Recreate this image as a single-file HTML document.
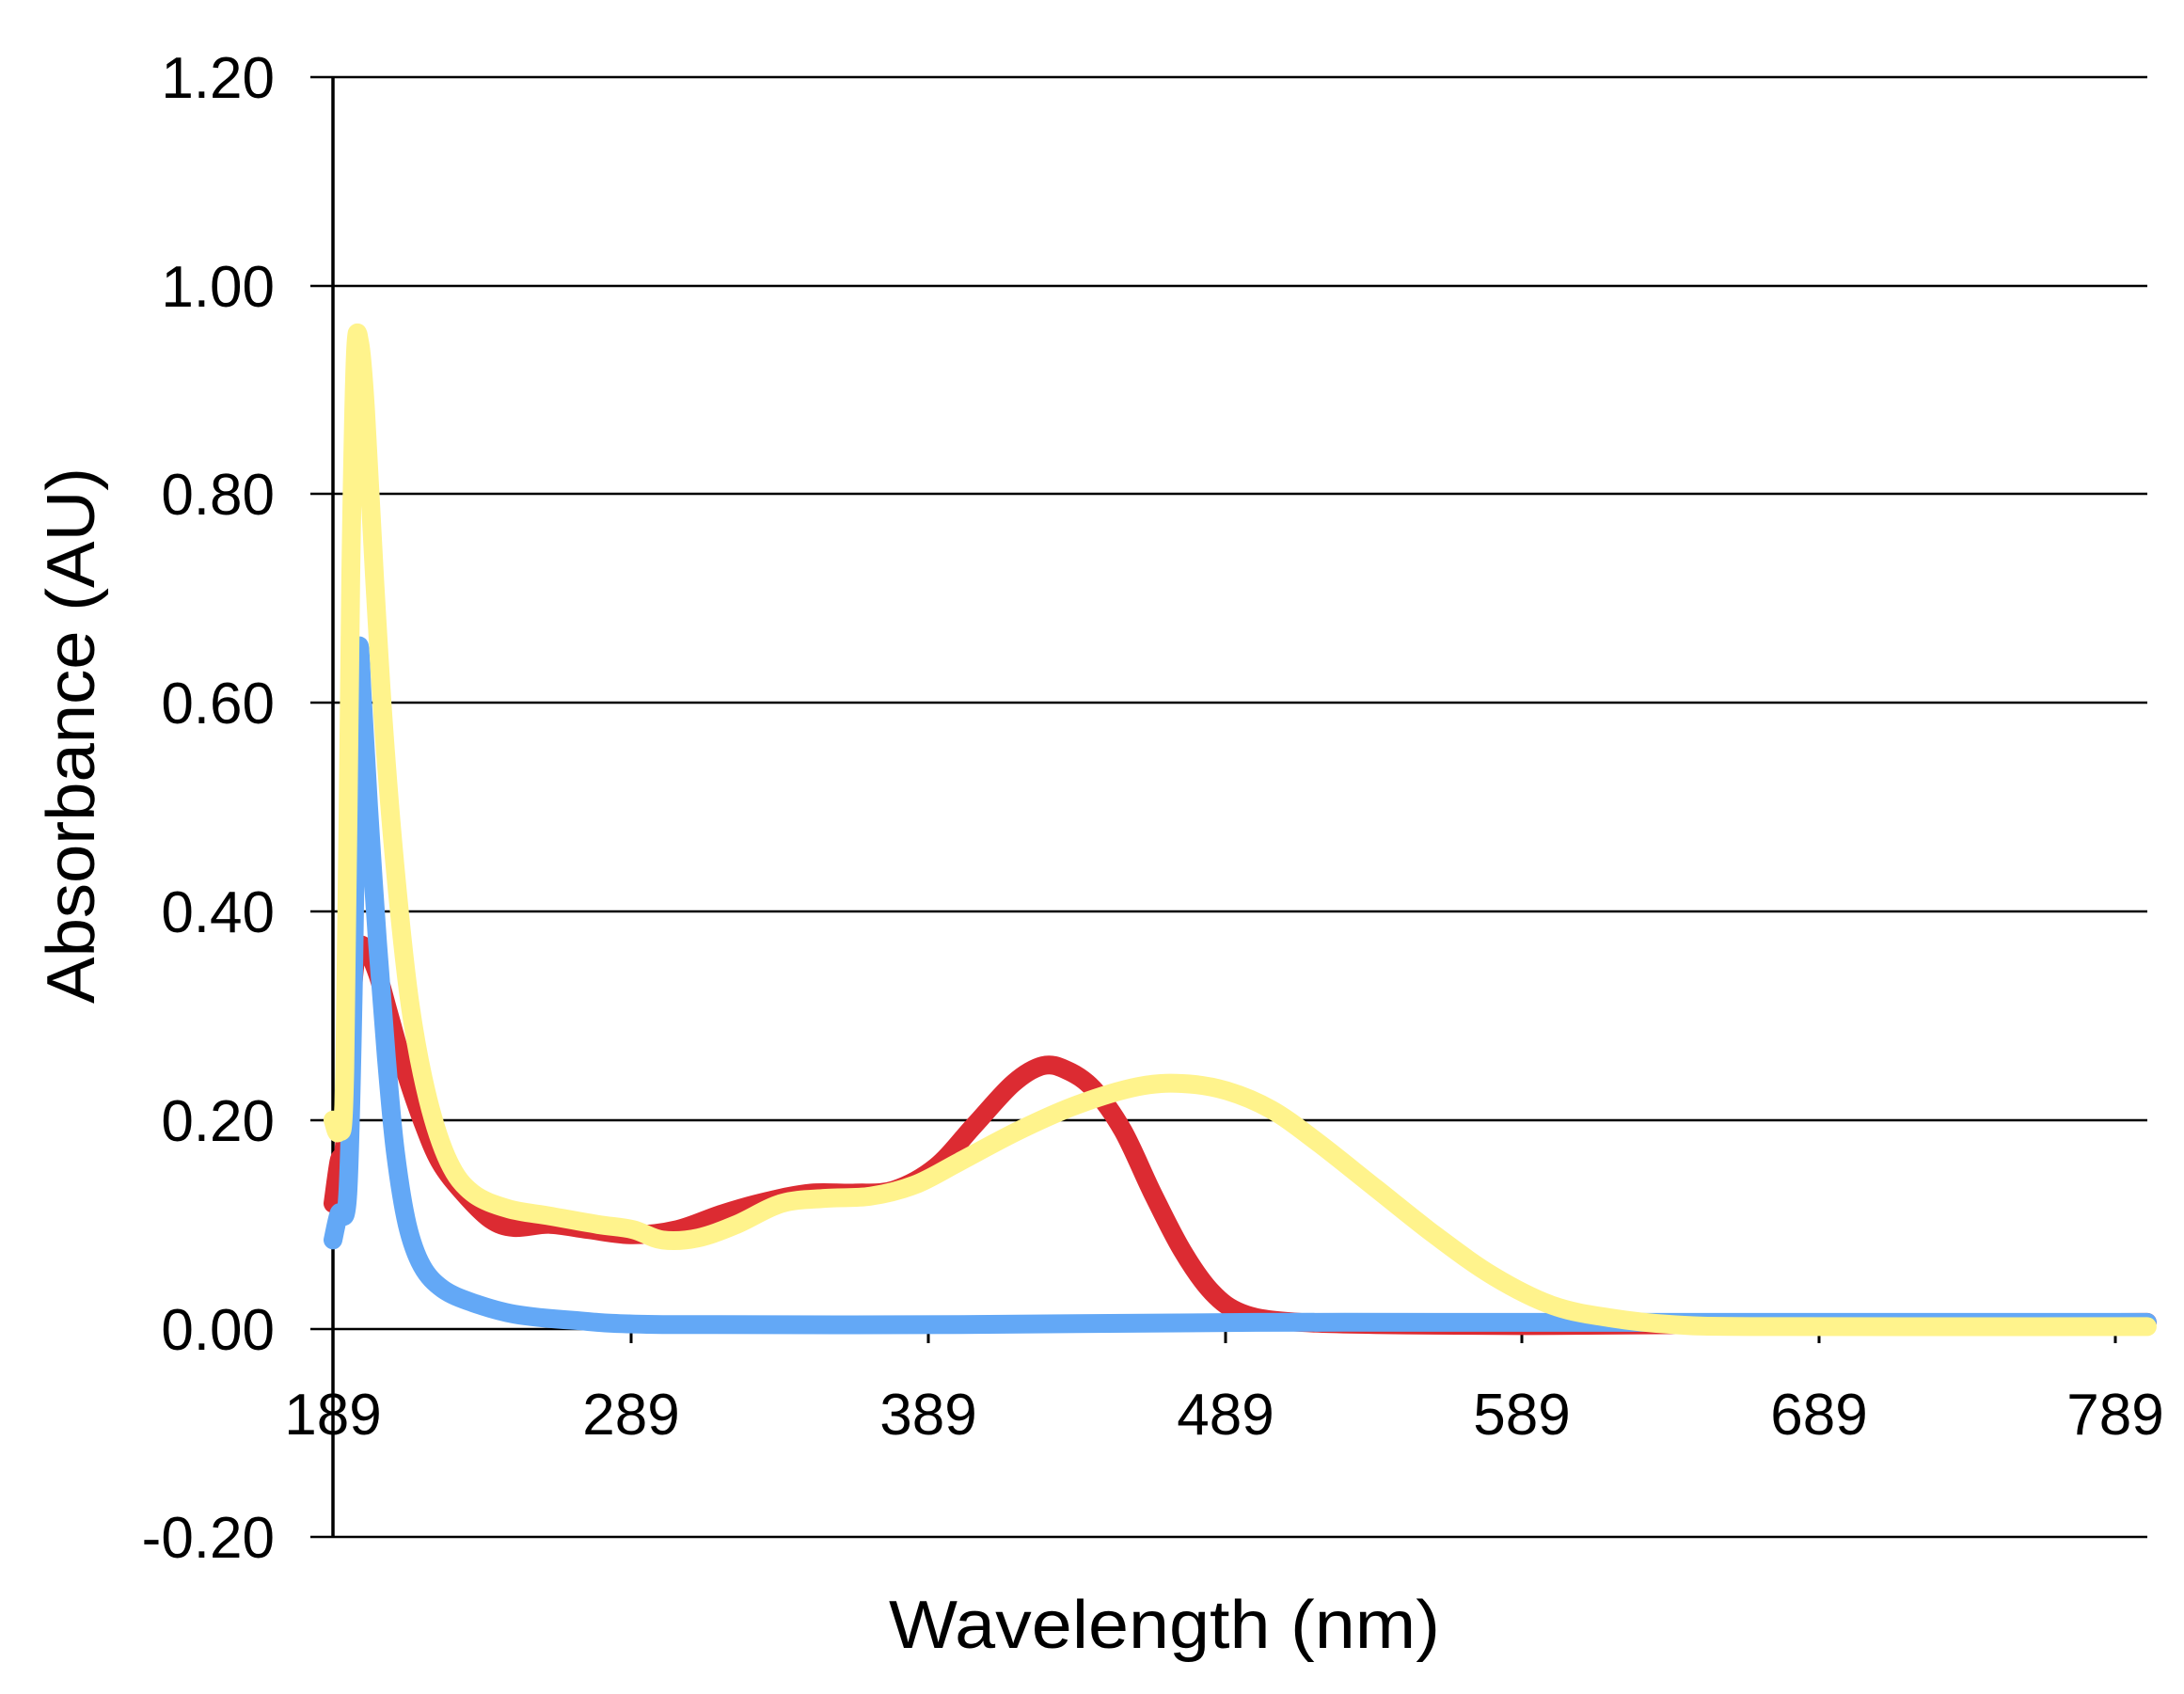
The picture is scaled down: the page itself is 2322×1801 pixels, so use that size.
<!DOCTYPE html>
<html><head><meta charset="utf-8"><style>
html,body{margin:0;padding:0;background:#fff;}
svg{display:block;}
text{font-family:"Liberation Sans",sans-serif;fill:#000;}
</style></head><body>
<svg id="s" width="2322" height="1801" viewBox="0 0 2322 1801" xmlns="http://www.w3.org/2000/svg">
<g stroke="#000" stroke-width="2.5">
<line x1="330" y1="82" x2="2283" y2="82"/>
<line x1="330" y1="304" x2="2283" y2="304"/>
<line x1="330" y1="525" x2="2283" y2="525"/>
<line x1="330" y1="747" x2="2283" y2="747"/>
<line x1="330" y1="969" x2="2283" y2="969"/>
<line x1="330" y1="1191" x2="2283" y2="1191"/>
<line x1="330" y1="1413" x2="2283" y2="1413"/>
<line x1="330" y1="1634" x2="2283" y2="1634"/>
</g>
<line x1="354" y1="82" x2="354" y2="1634" stroke="#000" stroke-width="3.5"/>
<g stroke="#000" stroke-width="3">
<line x1="354" y1="1413" x2="354" y2="1428"/>
<line x1="671" y1="1413" x2="671" y2="1428"/>
<line x1="987" y1="1413" x2="987" y2="1428"/>
<line x1="1303" y1="1413" x2="1303" y2="1428"/>
<line x1="1618" y1="1413" x2="1618" y2="1428"/>
<line x1="1934" y1="1413" x2="1934" y2="1428"/>
<line x1="2249" y1="1413" x2="2249" y2="1428"/>
</g>
<g id="curves" fill="none" stroke-width="20" stroke-linejoin="round" stroke-linecap="round"></g>
<g font-size="62" text-anchor="end">
<text x="292" y="104">1.20</text>
<text x="292" y="326">1.00</text>
<text x="292" y="547">0.80</text>
<text x="292" y="769">0.60</text>
<text x="292" y="991">0.40</text>
<text x="292" y="1213">0.20</text>
<text x="292" y="1435">0.00</text>
<text x="292" y="1656">-0.20</text>
</g>
<g font-size="62" text-anchor="middle">
<text x="354" y="1525">189</text>
<text x="671" y="1525">289</text>
<text x="987" y="1525">389</text>
<text x="1303" y="1525">489</text>
<text x="1618" y="1525">589</text>
<text x="1934" y="1525">689</text>
<text x="2249" y="1525">789</text>
</g>
<text x="1238" y="1752" font-size="72" text-anchor="middle" textLength="586" lengthAdjust="spacingAndGlyphs">Wavelength (nm)</text>
<text transform="translate(100,782) rotate(-90)" font-size="72" text-anchor="middle" textLength="570" lengthAdjust="spacingAndGlyphs">Absorbance (AU)</text>
</svg>
<script>
function X(l){return 354+(l-189)*3.157;}
function Y(v){return 1412.6-v*1109;}
function path(pts){
  var p=pts.map(function(a){return [X(a[0]),Y(a[1])];});
  var d="M"+p[0][0].toFixed(1)+","+p[0][1].toFixed(1);
  for(var i=0;i<p.length-1;i++){
    var p0=p[i-1]||p[i],p1=p[i],p2=p[i+1],p3=p[i+2]||p2;
    var c1=[p1[0]+(p2[0]-p0[0])/6,p1[1]+(p2[1]-p0[1])/6];
    var c2=[p2[0]-(p3[0]-p1[0])/6,p2[1]-(p3[1]-p1[1])/6];
    d+=" C"+c1[0].toFixed(1)+","+c1[1].toFixed(1)+" "+c2[0].toFixed(1)+","+c2[1].toFixed(1)+" "+p2[0].toFixed(1)+","+p2[1].toFixed(1);
  }
  return d;
}
var red=[[189,0.12],[191,0.16],[193,0.18],[195,0.30],[197,0.36],[200,0.365],[204,0.34],[208,0.30],[213,0.25],[219,0.20],[225,0.16],[233,0.13],[242,0.105],[250,0.097],[262,0.10],[275,0.095],[290,0.09],[305,0.095],[320,0.11],[335,0.122],[350,0.13],[365,0.13],[378,0.133],[392,0.155],[405,0.195],[418,0.235],[428,0.252],[436,0.248],[445,0.23],[455,0.19],[465,0.13],[475,0.075],[485,0.035],[495,0.015],[510,0.007],[540,0.004],[600,0.003],[700,0.005],[800,0.006]];
var blue=[[189,0.085],[191,0.11],[194,0.13],[196,0.35],[197.5,0.64],[199,0.60],[201,0.50],[204,0.37],[207,0.26],[210,0.17],[214,0.10],[219,0.06],[226,0.038],[236,0.025],[250,0.014],[270,0.008],[300,0.004],[400,0.004],[500,0.006],[600,0.006],[800,0.006]];
var yel=[[189,0.20],[191,0.19],[193,0.25],[195,0.72],[196.5,0.93],[198,0.945],[200,0.88],[203,0.72],[206,0.58],[210,0.44],[215,0.31],[221,0.22],[228,0.16],[236,0.13],[248,0.115],[262,0.108],[278,0.10],[290,0.095],[300,0.085],[312,0.087],[325,0.10],[340,0.12],[355,0.125],[370,0.127],[385,0.138],[400,0.16],[420,0.19],[440,0.215],[460,0.232],[475,0.235],[490,0.228],[505,0.21],[520,0.18],[540,0.135],[560,0.09],[580,0.05],[600,0.022],[620,0.01],[640,0.004],[670,0.002],[800,0.002]];
var g=document.getElementById("curves");
[[red,"#dc2b32"],[blue,"#63a8f6"],[yel,"#fff38c"]].forEach(function(s){
  var e=document.createElementNS("http://www.w3.org/2000/svg","path");
  e.setAttribute("d",path(s[0]));e.setAttribute("stroke",s[1]);g.appendChild(e);
});
</script>
</body></html>
